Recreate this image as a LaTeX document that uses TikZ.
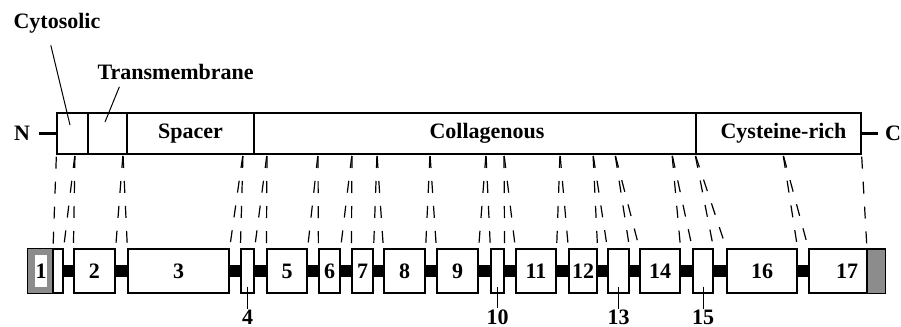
\documentclass[tikz,border=0pt]{standalone}
\usepackage{fontspec}
\setmainfont{Liberation Serif}

\begin{document}
\begin{tikzpicture}[x=0.5pt, y=-0.5pt, line width=0.6pt,
	dombox/.style = {draw, fill=white, minimum height=20.5pt, inner sep=0pt},
	exon/.style = {draw, fill=white, minimum height=22pt, inner sep=0pt},
	hatch/.style = {draw, fill=black!45},
	intron/.style = {line width=6pt},
	splice/.style = {dash pattern=on 6pt off 6.5pt, dash phase=11.5pt},
	callout/.style = {line width=0.5pt},
	term/.style = {line width=1.2pt},
	every node/.style = {font=\fontsize{11}{13}\selectfont\bfseries}]
	\useasboundingbox (0,0) rectangle (901,327);
	% protein domains
	\node[dombox, minimum width=15.5pt] (cyt) at (72.5,133.5) {};
	\node[dombox, minimum width=19.5pt] (tm) at (107.5,133.5) {};
	\node[dombox, minimum width=63.5pt] (spa) at (190.5,133.5) {Spacer};
	\node[dombox, minimum width=221pt] (col) at (475,133.5) {};
	\node[dombox, minimum width=82.5pt] (cys) at (778.5,133.5) {};
	\node (collab) at ([xshift=6pt]col.center) {Collagenous};
	\node (cyslab) at ([xshift=2.5pt]cys.center) {Cysteine-rich};
	\node (nterm) at (22,133.5) {N};
	\node (cterm) at (893,133.5) {C};
	\draw[term, shorten <=1pt] (nterm.east) -- (cyt.west);
	\draw[term] (cys.east) -- (cterm.west);
	% callouts
	\node[anchor=west, inner sep=0pt] (cytlab) at (13,23) {Cytosolic};
	\node[anchor=west, inner sep=0pt] (tmlab) at (97,72) {Transmembrane};
	\coordinate (cytpt) at (70,125);
	\coordinate (tmpt) at (105,122);
	\draw[callout, shorten <=6pt] ([xshift=17.5pt]cytlab.south west) -- (cytpt);
	\draw[callout, shorten <=3.5pt] ([xshift=12.5pt]tmlab.south west) -- (tmpt);
	% exons
	\node[exon, minimum width=17.5pt] (e1) at (45.5,271) {};
	\node[exon, minimum width=20.5pt] (e2) at (94.5,271) {2};
	\node[exon, minimum width=50.5pt] (e3) at (178.5,271) {3};
	\node[exon, minimum width=6.5pt] (e4) at (247.5,271) {};
	\node[exon, minimum width=20pt] (e5) at (287,271) {5};
	\node[exon, minimum width=10.5pt] (e6) at (329.5,271) {6};
	\node[exon, minimum width=10.5pt] (e7) at (362.5,271) {7};
	\node[exon, minimum width=20.5pt] (e8) at (404.5,271) {8};
	\node[exon, minimum width=20.5pt] (e9) at (457.5,271) {9};
	\node[exon, minimum width=6.5pt] (e10) at (497.5,271) {};
	\node[exon, minimum width=20pt] (e11) at (536,271) {11};
	\node[exon, minimum width=14pt] (e12) at (583,271) {12};
	\node[exon, minimum width=10.5pt] (e13) at (618.5,271) {};
	\node[exon, minimum width=20pt] (e14) at (660,271) {14};
	\node[exon, minimum width=10pt] (e15) at (703,271) {};
	\node[exon, minimum width=35pt] (e16) at (762,271) {16};
	\node[exon, minimum width=38pt] (e17) at (847,271) {17};
	% untranslated ends
	\coordinate (cdsA) at (53,249);
	\coordinate (cdsB) at (867,249);
	\filldraw[hatch] (e1.north west) rectangle (cdsA |- e1.south);
	\filldraw[hatch] (cdsB) rectangle (e17.south east);
	\node[fill=white, inner sep=0pt, minimum width=6pt, minimum height=16pt] (one) at (41,271) {1};
	% introns and splice sites
	\foreach \x [count=\i] in {75,123,243,267,318,352,377,430,486,504,560,593,615,672,695,783}
		\coordinate (j\i) at (\x,154);
	\foreach \i [evaluate=\i as \j using int(\i+1)] in {1,...,16} {
		\draw[intron] (e\i.east) -- (e\j.west);
		\draw[splice] (j\i) -- (e\i.north east);
		\draw[splice] (j\i) -- (e\j.north west);
	}
	\draw[splice] (cyt.south west) -- (cdsA);
	\draw[splice] (cys.south east) -- (cdsB);
	% small exons
	\foreach \n in {4,10,13,15} {
		\path (e\n.center) ++(0,46.5) node[inner sep=0.5pt] (t\n) {\n};
		\draw[callout] ([yshift=3.5pt]e\n.south) -- (t\n.north);
	}
\end{tikzpicture}
\end{document}
